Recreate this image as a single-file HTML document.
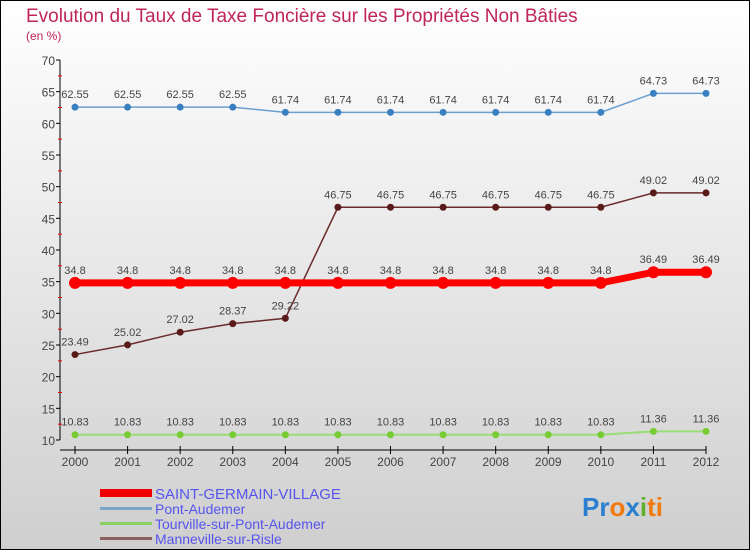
<!DOCTYPE html>
<html><head><meta charset="utf-8"><style>
body{margin:0}
#c{width:750px;height:550px;position:relative;overflow:hidden;font-family:"Liberation Sans",sans-serif}
</style></head><body>
<div id="c">
<svg id="s" width="750" height="550" xmlns="http://www.w3.org/2000/svg">
<defs><linearGradient id="bg" x1="0" y1="0" x2="0" y2="1"><stop offset="0" stop-color="#ffffff"/><stop offset="1" stop-color="#cfcfcf"/></linearGradient></defs>
<rect x="0.5" y="0.5" width="749" height="549" fill="url(#bg)" stroke="#000"/>
<text x="26" y="22" font-size="19" fill="#c0245c">Evolution du Taux de Taxe Foncière sur les Propriétés Non Bâties</text>
<text x="26" y="40" font-size="12" fill="#c0245c">(en %)</text>
<g id="axes"></g><g id="series"></g>
<g>
<rect x="100" y="489" width="52" height="8" fill="#e00"/>
<text x="155" y="499" font-size="15" fill="#5555ee">SAINT-GERMAIN-VILLAGE</text>
<rect x="100" y="507" width="52" height="3" fill="#7aa4c8"/>
<text x="155" y="514" font-size="14" fill="#5555ee">Pont-Audemer</text>
<rect x="100" y="522" width="52" height="3" fill="#88d060"/>
<text x="155" y="529" font-size="14" fill="#5555ee">Tourville-sur-Pont-Audemer</text>
<rect x="100" y="537" width="52" height="3" fill="#8a6060"/>
<text x="155" y="544" font-size="14" fill="#5555ee">Manneville-sur-Risle</text>
</g>
<text x="582" y="516" font-size="26" font-weight="bold"><tspan fill="#2a7fd0">Pr</tspan><tspan fill="#f07a10">o</tspan><tspan fill="#2a7fd0">x</tspan><tspan fill="#60b030">i</tspan><tspan fill="#f07a10">ti</tspan></text>
</svg></div>
<script>
const years=["2000","2001","2002","2003","2004","2005","2006","2007","2008","2009","2010","2011","2012"];
const yTicks=[10,15,20,25,30,35,40,45,50,55,60,65,70];
const saintGermain=[34.8,34.8,34.8,34.8,34.8,34.8,34.8,34.8,34.8,34.8,34.8,36.49,36.49];
const pontAudemer=[62.55,62.55,62.55,62.55,61.74,61.74,61.74,61.74,61.74,61.74,61.74,64.73,64.73];
const tourville=[10.83,10.83,10.83,10.83,10.83,10.83,10.83,10.83,10.83,10.83,10.83,11.36,11.36];
const manneville=[23.49,25.02,27.02,28.37,29.22,46.75,46.75,46.75,46.75,46.75,46.75,49.02,49.02];
const NS="http://www.w3.org/2000/svg";
const xS=i=>75+i*(706-75)/(years.length-1);
const yS=v=>440-(v-10)*(380/60);
function mk(t,a,p){const e=document.createElementNS(NS,t);for(const k in a)e.setAttribute(k,a[k]);p.appendChild(e);return e;}
const ax=document.getElementById('axes');
let yl=mk('line',{x1:60,y1:60,x2:60,y2:440,stroke:'#000'},ax);


let xl=mk('line',{x1:60,y1:450,x2:706,y2:450,stroke:'#000'},ax);


yTicks.forEach(v=>{
 mk('line',{x1:56,y1:yS(v),x2:60,y2:yS(v),stroke:'#000'},ax);
 if(v<70)mk('line',{x1:58,y1:yS(v+2.5),x2:62,y2:yS(v+2.5),stroke:'#e00'},ax);
 const t=mk('text',{x:55,y:yS(v)+5,'font-size':12,fill:'#444','text-anchor':'end'},ax);t.textContent=v;
 
 
});
years.forEach((y,i)=>{
 mk('line',{x1:xS(i),y1:446,x2:xS(i),y2:454,stroke:'#000'},ax);
 const t=mk('text',{x:xS(i),y:466,'font-size':12,fill:'#444','text-anchor':'middle'},ax);t.textContent=y;
 
 
});
const sg=document.getElementById('series');
function draw(data,color,lw,r,mc,name){
 const g=mk('g',{},sg);
 
 
 mk('polyline',{points:data.map((v,i)=>xS(i)+','+yS(v)).join(' '),fill:'none',stroke:color,'stroke-width':lw},g);
 data.forEach((v,i)=>{
  const c=mk('circle',{cx:xS(i),cy:yS(v),r:r,fill:mc},g);
  
  
  const t=mk('text',{x:xS(i),y:yS(v)-9,'font-size':11,fill:'#444','text-anchor':'middle'},g);
  t.textContent=String(v);
  
  
 });
}
draw(pontAudemer,'#6aa0d0',1.5,3.5,'#3a80c0','series-pont-audemer');
draw(tourville,'#99dd77',2,3.5,'#77cc33','series-tourville');
draw(manneville,'#6a2a2a',1.5,3.5,'#5a1a1a','series-manneville');
draw(saintGermain,'#ff0000',7,6,'#ff0000','series-saint-germain');
</script>
</body></html>
